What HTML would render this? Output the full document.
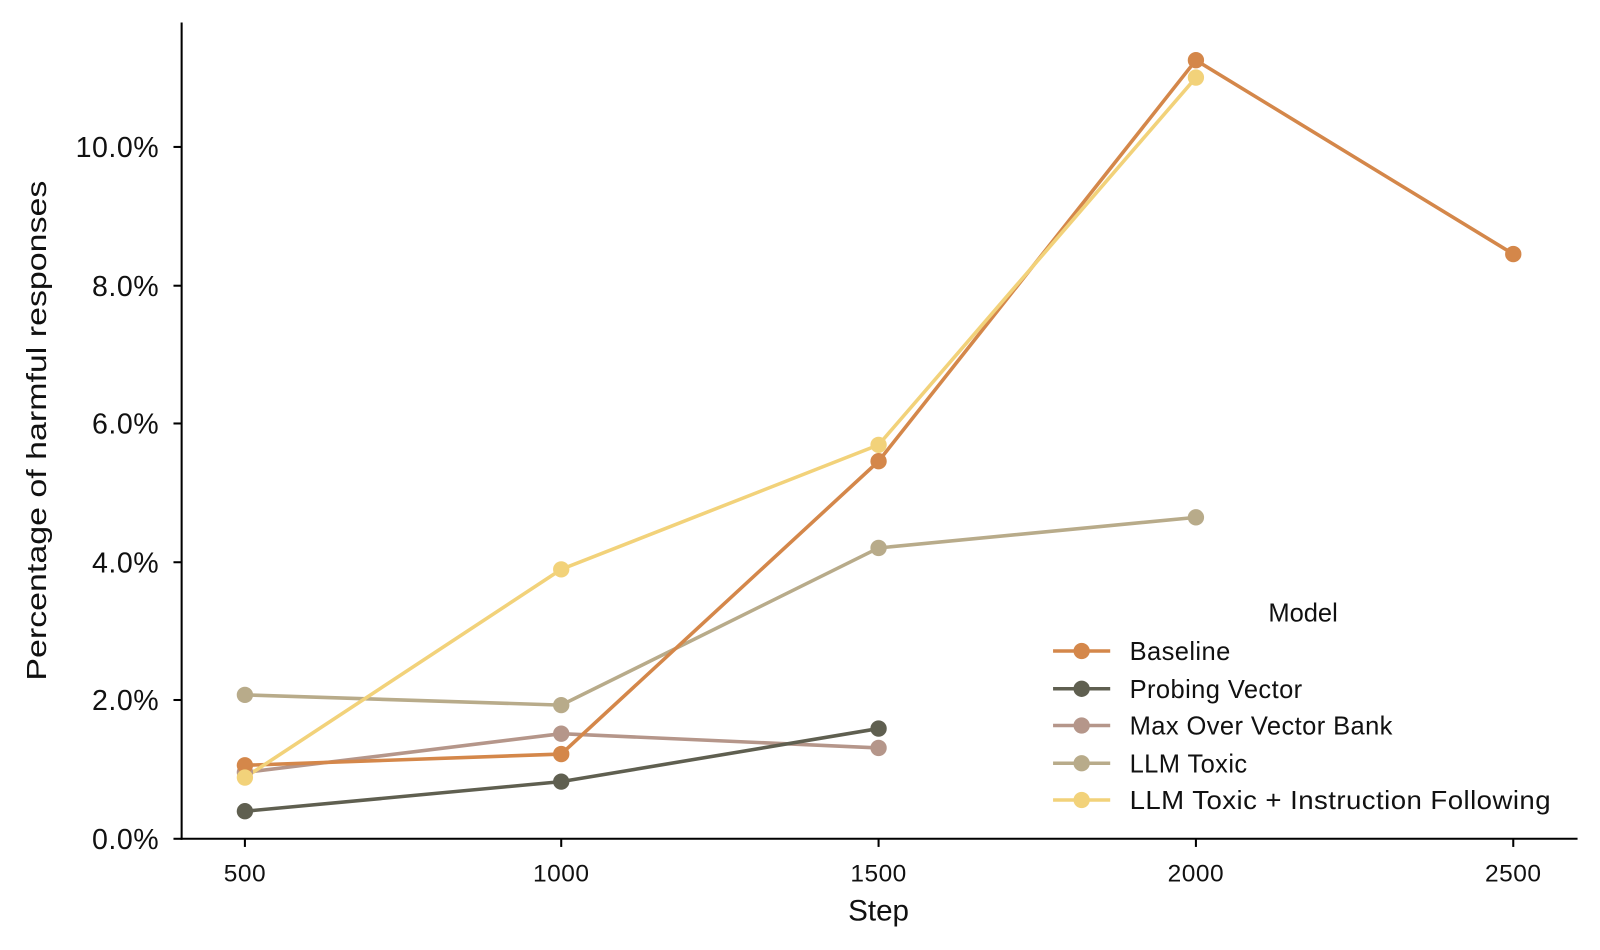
<!DOCTYPE html>
<html><head><meta charset="utf-8"><style>
body{margin:0;background:#fff}
svg{display:block;font-family:"Liberation Sans",sans-serif}
</style></head><body>
<svg width="1600" height="950" viewBox="0 0 1568 931">
<rect width="1568" height="931" fill="#fff"/>
<g stroke="#000" stroke-width="2" fill="none">
<line x1="178" y1="22" x2="178" y2="823"/>
<line x1="177" y1="822" x2="1546" y2="822"/>
<line x1="170" y1="822" x2="178" y2="822"/>
<line x1="170" y1="686" x2="178" y2="686"/>
<line x1="170" y1="551" x2="178" y2="551"/>
<line x1="170" y1="415" x2="178" y2="415"/>
<line x1="170" y1="280" x2="178" y2="280"/>
<line x1="170" y1="144" x2="178" y2="144"/>
<line x1="240" y1="822" x2="240" y2="830"/>
<line x1="550" y1="822" x2="550" y2="830"/>
<line x1="861" y1="822" x2="861" y2="830"/>
<line x1="1172" y1="822" x2="1172" y2="830"/>
<line x1="1483" y1="822" x2="1483" y2="830"/>
</g>
<g font-size="28" text-anchor="end" fill="#111" letter-spacing="0.5">
<text x="156" y="832">0.0%</text>
<text x="156" y="696">2.0%</text>
<text x="156" y="561">4.0%</text>
<text x="156" y="425">6.0%</text>
<text x="156" y="290">8.0%</text>
<text x="156" y="154">10.0%</text>
</g>
<g font-size="24" text-anchor="middle" fill="#111" letter-spacing="0.5">
<text x="240" y="864">500</text>
<text x="550" y="864">1000</text>
<text x="861" y="864">1500</text>
<text x="1172" y="864">2000</text>
<text x="1483" y="864">2500</text>
</g>
<text x="861" y="902" font-size="29" text-anchor="middle" fill="#111">Step</text>
<text transform="translate(45,422) rotate(-90)" font-size="27" text-anchor="middle" fill="#111" textLength="490" lengthAdjust="spacingAndGlyphs">Percentage of harmful responses</text>
<g fill="none" stroke-width="3.5">
<polyline stroke="#b8ab8a" points="240,681 550,691 861,537 1172,507"/>
<polyline stroke="#b5968a" points="240,757 550,719 861,733"/>
<polyline stroke="#5f5f50" points="240,795 550,766 861,714"/>
<polyline stroke="#d4874a" points="240,750 550,739 861,452 1172,59 1483,249"/>
<polyline stroke="#f2d27a" points="240,762 550,558 861,436 1172,76"/>
</g>
<g fill="#b8ab8a"><circle cx="240" cy="681" r="8"/><circle cx="550" cy="691" r="8"/><circle cx="861" cy="537" r="8"/><circle cx="1172" cy="507" r="8"/></g>
<g fill="#b5968a"><circle cx="240" cy="757" r="8"/><circle cx="550" cy="719" r="8"/><circle cx="861" cy="733" r="8"/></g>
<g fill="#5f5f50"><circle cx="240" cy="795" r="8"/><circle cx="550" cy="766" r="8"/><circle cx="861" cy="714" r="8"/></g>
<g fill="#d4874a"><circle cx="240" cy="750" r="8"/><circle cx="550" cy="739" r="8"/><circle cx="861" cy="452" r="8"/><circle cx="1172" cy="59" r="8"/><circle cx="1483" cy="249" r="8"/></g>
<g fill="#f2d27a"><circle cx="240" cy="762" r="8"/><circle cx="550" cy="558" r="8"/><circle cx="861" cy="436" r="8"/><circle cx="1172" cy="76" r="8"/></g>
<text x="1277" y="609" font-size="25" text-anchor="middle" fill="#111">Model</text>
<g font-size="25" fill="#111" letter-spacing="0.4">
<line x1="1032" y1="638" x2="1088" y2="638" stroke="#d4874a" stroke-width="3.5"/><circle cx="1060" cy="638" r="8" fill="#d4874a"/><text x="1107" y="647">Baseline</text>
<line x1="1032" y1="675" x2="1088" y2="675" stroke="#5f5f50" stroke-width="3.5"/><circle cx="1060" cy="675" r="8" fill="#5f5f50"/><text x="1107" y="684">Probing Vector</text>
<line x1="1032" y1="711" x2="1088" y2="711" stroke="#b5968a" stroke-width="3.5"/><circle cx="1060" cy="711" r="8" fill="#b5968a"/><text x="1107" y="720">Max Over Vector Bank</text>
<line x1="1032" y1="748" x2="1088" y2="748" stroke="#b8ab8a" stroke-width="3.5"/><circle cx="1060" cy="748" r="8" fill="#b8ab8a"/><text x="1107" y="757">LLM Toxic</text>
<line x1="1032" y1="784" x2="1088" y2="784" stroke="#f2d27a" stroke-width="3.5"/><circle cx="1060" cy="784" r="8" fill="#f2d27a"/><text x="1107" y="793" textLength="413" lengthAdjust="spacingAndGlyphs">LLM Toxic + Instruction Following</text>
</g>
</svg>
</body></html>
